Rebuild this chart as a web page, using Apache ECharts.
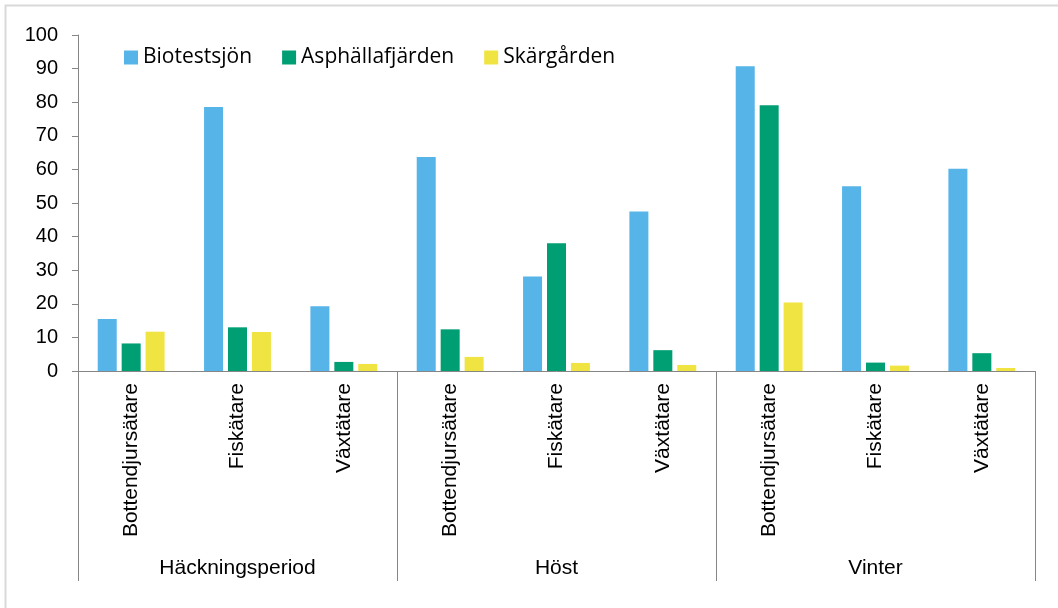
<!DOCTYPE html>
<html>
<head>
<meta charset="utf-8">
<script src="https://cdn.jsdelivr.net/npm/echarts@6/dist/echarts.min.js"></script>
<style>
  html, body { margin: 0; padding: 0; background: #fff; }
  #chart { width: 1058px; height: 608px; }
</style>
</head>
<body>
<div id="chart"></div>
<script>
// data
var groups = ['Häckningsperiod', 'Höst', 'Vinter'];
var feeders = ['Bottendjursätare', 'Fiskätare', 'Växtätare'];
var seriesNames = ['Biotestsjön', 'Asphällafjärden', 'Skärgården'];
var biotestsjon = [15.5, 78.6, 19.3, 63.7, 28.1, 47.5, 90.7, 55.0, 60.2];
var asphallafjarden = [8.2, 13.0, 2.7, 12.4, 38.0, 6.2, 79.1, 2.5, 5.3];
var skargarden = [11.7, 11.6, 2.1, 4.2, 2.4, 1.8, 20.4, 1.6, 0.9];
var yMin = 0, yMax = 100, yStep = 10;

var categories = [];
groups.forEach(function (g) {
	feeders.forEach(function (f) { categories.push(f); });
});

var axisGray = '#868686';
var font = 'Liberation Sans, Arial, sans-serif';

var mychart = echarts.init(document.getElementById('chart'));

function barSeries(name, data) {
	return {
		name: name,
		type: 'bar',
		data: data,
		barWidth: 19,
		barGap: '26%',
		xAxisIndex: 0
	};
}

var option = {
	animation: false,
	color: ['#56B4E9', '#009E73', '#F0E442'],
	graphic: [{
		type: 'rect',
		shape: { x: 5.5, y: 5.5, width: 1100, height: 700 },
		style: { fill: 'none', stroke: '#d9d9d9', lineWidth: 2 },
		silent: true
	}],
	legend: {
		data: seriesNames,
		left: 119,
		top: 42,
		itemWidth: 14,
		itemHeight: 14,
		itemGap: 30,
		icon: 'rect',
		textStyle: { fontFamily: 'Open Sans', fontSize: 21, color: '#000' }
	},
	grid: { left: 78, right: 23, top: 35, bottom: 237 },
	xAxis: [{
		type: 'category',
		data: categories,
		position: 'bottom',
		axisLine: { lineStyle: { color: axisGray } },
		axisTick: { show: false },
		axisLabel: {
			interval: 0,
			rotate: 90,
			margin: 12,
			fontFamily: font,
			fontSize: 21,
			color: '#000'
		}
	}, {
		type: 'category',
		data: groups,
		position: 'bottom',
		axisLine: { show: false },
		axisTick: { show: true, interval: 0, length: 210, lineStyle: { color: axisGray } },
		axisLabel: {
			interval: 0,
			margin: 187,
			fontFamily: font,
			fontSize: 21,
			color: '#000'
		}
	}],
	yAxis: {
		type: 'value',
		min: yMin,
		max: yMax,
		interval: yStep,
		splitLine: { show: false },
		axisLine: { show: true, lineStyle: { color: axisGray } },
		axisTick: { show: true, length: 6, lineStyle: { color: axisGray } },
		axisLabel: { margin: 20, fontFamily: font, fontSize: 20, color: '#000' }
	},
	series: [
		barSeries(seriesNames[0], biotestsjon),
		barSeries(seriesNames[1], asphallafjarden),
		barSeries(seriesNames[2], skargarden)
	]
};

mychart.setOption(option);
</script>
</body>
</html>
